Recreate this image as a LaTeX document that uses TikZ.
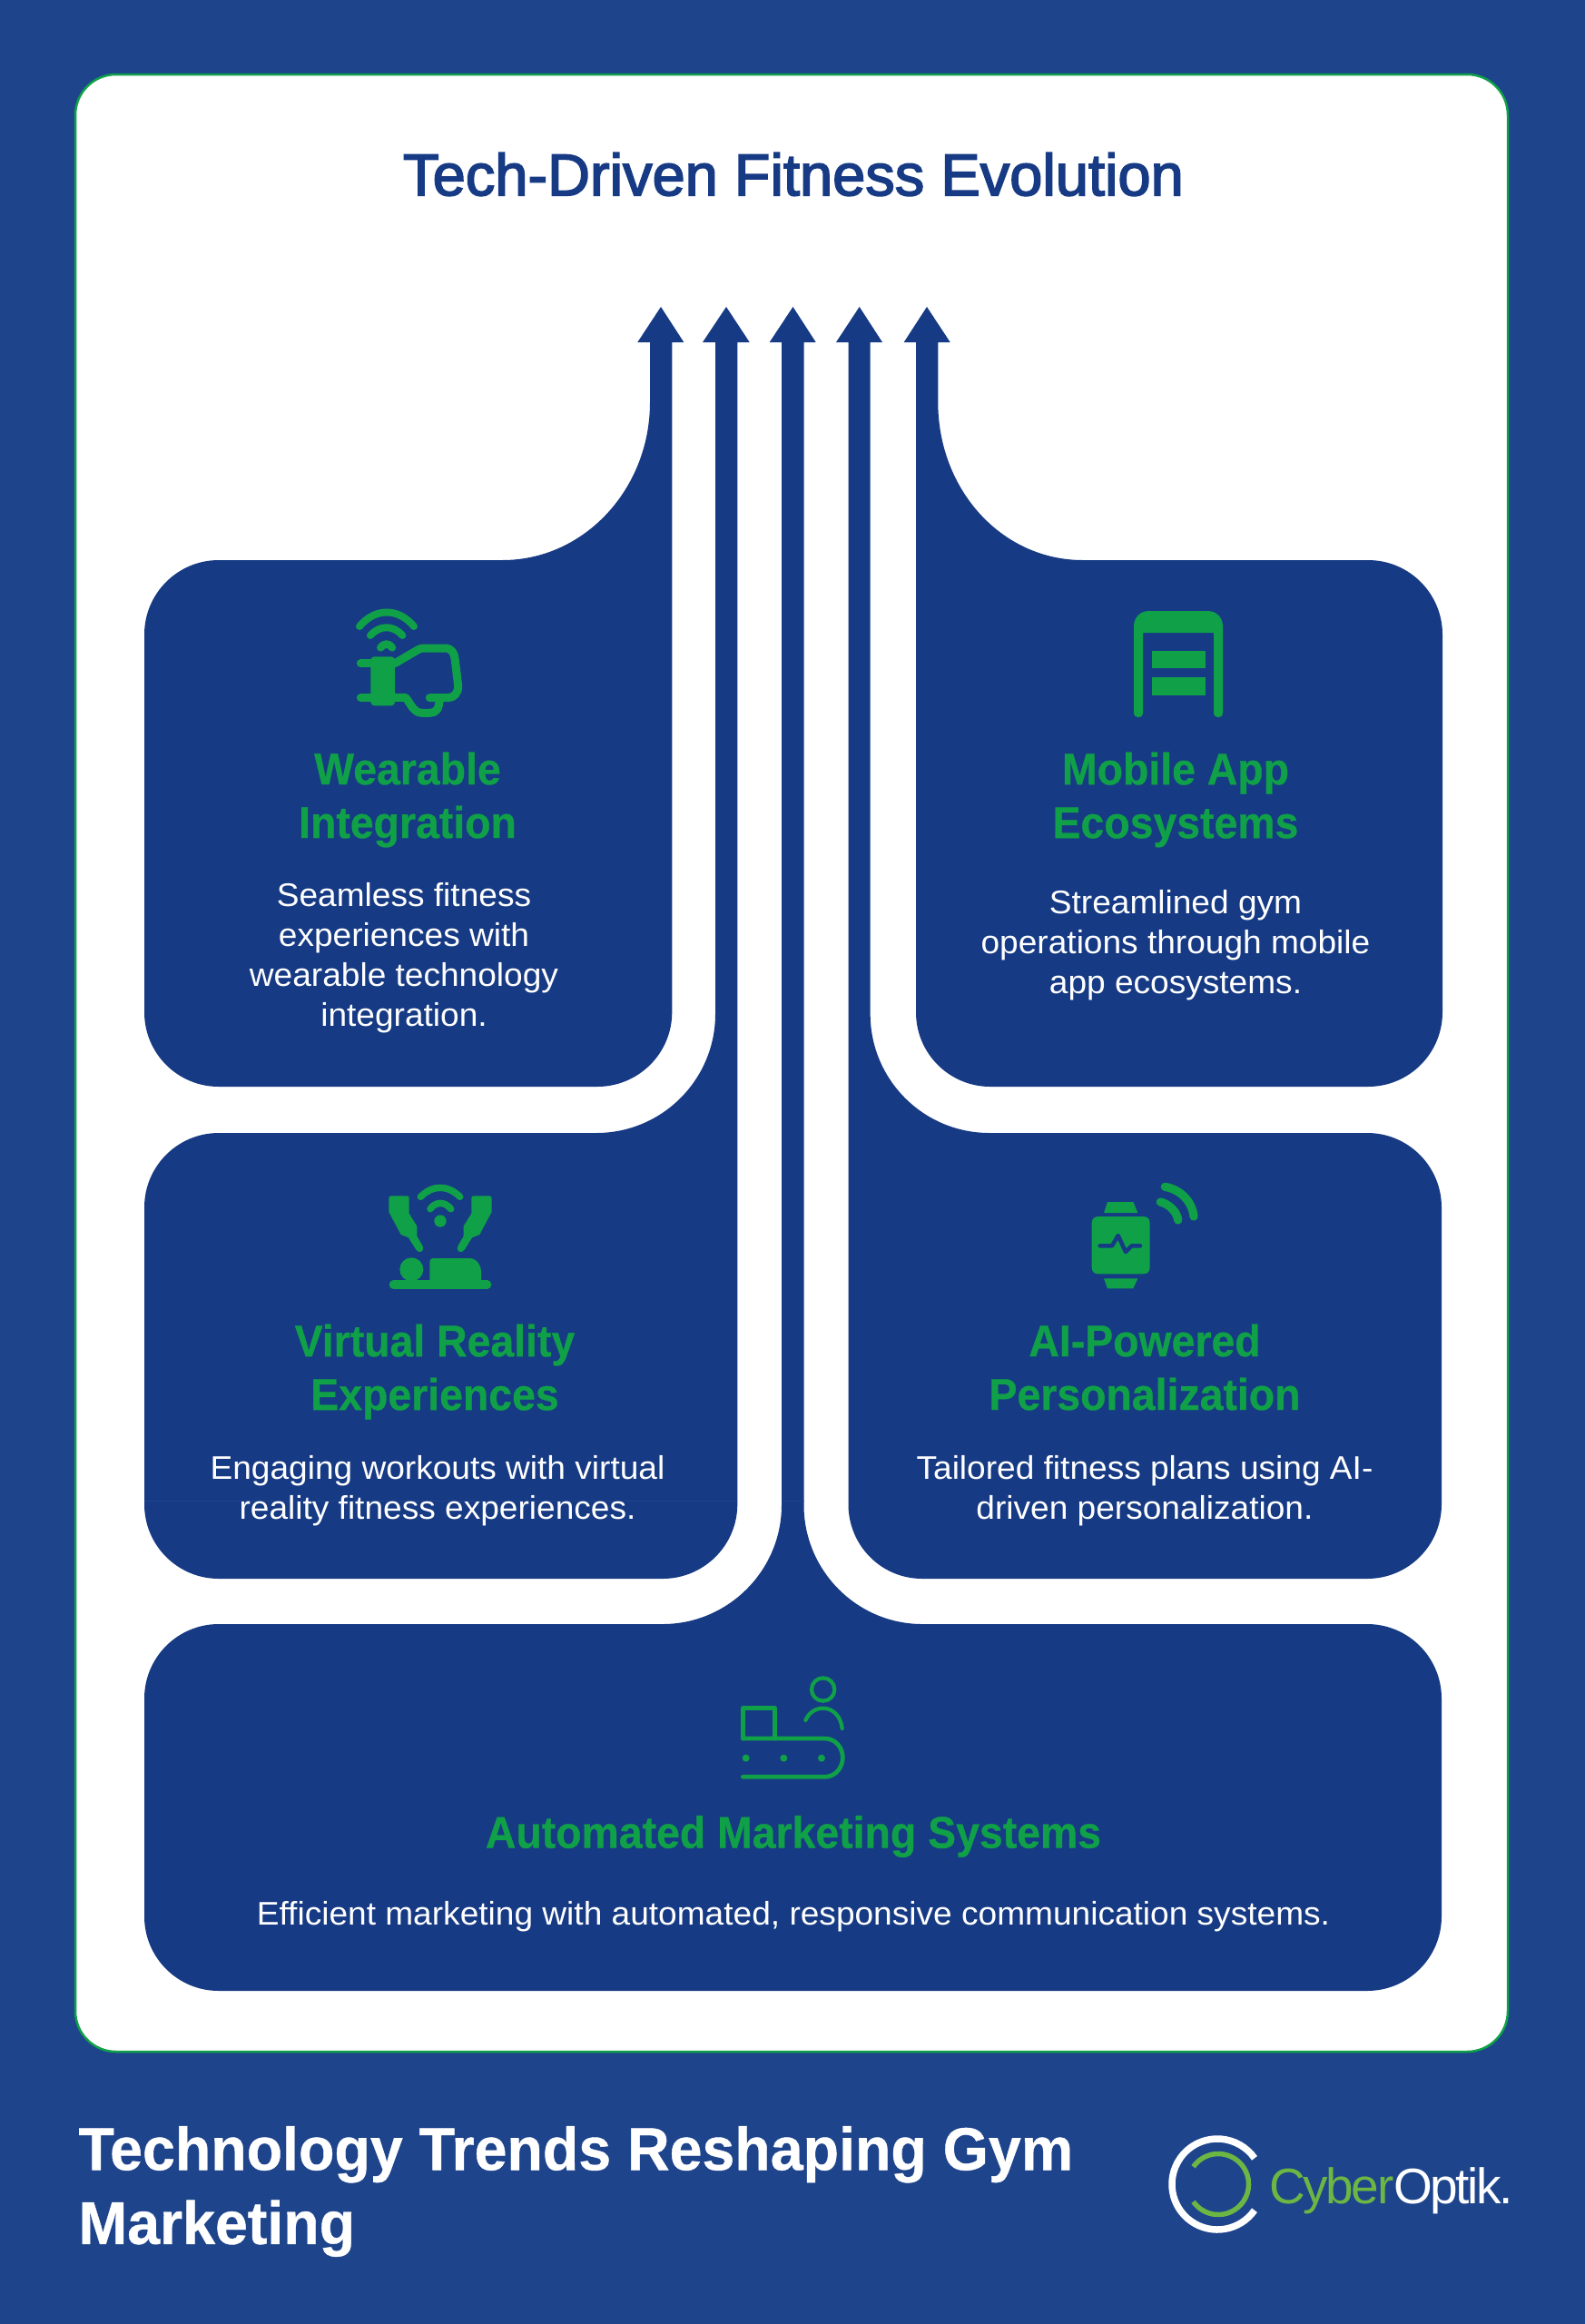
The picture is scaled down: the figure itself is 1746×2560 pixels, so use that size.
\documentclass[tikz,border=0pt]{standalone}
\usepackage{fontspec}
\setmainfont{Liberation Sans}
\newfontfamily\titlefont[FakeBold=2.5]{Liberation Sans}
\newfontfamily\headfont[FakeStretch=0.947,FakeBold=0.6]{Liberation Sans Bold}
\newfontfamily\bodyfont[FakeStretch=1.03]{Liberation Sans}
\newfontfamily\footfont[FakeStretch=0.97,FakeBold=0.6]{Liberation Sans Bold}
\newfontfamily\logofont[LetterSpace=-4.5]{Liberation Sans}
\definecolor{pagebg}{HTML}{1E448C}
\definecolor{boxblue}{HTML}{163A84}
\definecolor{cardgreen}{HTML}{10A048}
\definecolor{logogreen}{HTML}{6CB644}
\tikzset{
  blueshape/.style={fill=boxblue,draw=none},
  icongreen/.style={draw=cardgreen,line cap=round,line join=round},
  iconfill/.style={fill=cardgreen,draw=none},
  headtext/.style={text=cardgreen,align=center,inner sep=0pt,font=\headfont\fontsize{19.6}{23.6}\selectfont},
  bodytext/.style={text=white,align=center,inner sep=0pt,font=\bodyfont\fontsize{14.4}{17.6}\selectfont},
}
\begin{document}
\begin{tikzpicture}[x=0.40pt,y=0.40pt,yscale=-1,xscale=1]
\useasboundingbox (0,0) rectangle (1746,2560);

%Shape: Page
\fill [pagebg] (0,0) rectangle (1746,2560);
%Shape: Card
\draw [draw=cardgreen,fill=white,line width=1pt] (128,82) -- (1616,82) .. controls (1641,82) and (1661,102) .. (1661,127) -- (1661,2215) .. controls (1661,2240) and (1641,2260) .. (1616,2260) -- (128,2260) .. controls (103,2260) and (83,2240) .. (83,2215) -- (83,127) .. controls (83,102) and (103,82) .. (128,82) -- cycle ;

%Shape: Wearable box with arrow
\path [blueshape] (728,338) -- (753.3,377) -- (740.3,377) -- (740.3,1115) .. controls (740.3,1160.3) and (703.3,1197) .. (658,1197) -- (241,1197) .. controls (195.7,1197) and (159,1160.3) .. (159,1115) -- (159,699) .. controls (159,653.7) and (195.7,617) .. (241,617) -- (553.5,617) .. controls (643.3,617) and (716,539) .. (716,443) -- (716,377) -- (702.3,377) -- cycle ;
%Shape: Mobile box with arrow
\path [blueshape] (1021,338) -- (1046.7,377) -- (1033.3,377) -- (1033.3,443) .. controls (1033.3,539) and (1103,617) .. (1193,617) -- (1507,617) .. controls (1552.3,617) and (1589,653.7) .. (1589,699) -- (1589,1115) .. controls (1589,1160.3) and (1552.3,1197) .. (1507,1197) -- (1091,1197) .. controls (1045.7,1197) and (1009,1160.3) .. (1009,1115) -- (1009,377) -- (995.7,377) -- cycle ;
%Shape: Virtual box with arrow
\path [blueshape] (800,338) -- (825.7,377) -- (812.3,377) -- (812.3,1657) .. controls (812.3,1702.3) and (775.3,1739) .. (730,1739) -- (241,1739) .. controls (195.7,1739) and (159,1702.3) .. (159,1657) -- (159,1330) .. controls (159,1284.7) and (195.7,1248) .. (241,1248) -- (657,1248) .. controls (729.5,1248) and (788,1189) .. (788,1117) -- (788,377) -- (774,377) -- cycle ;
%Shape: AI box with arrow
\path [blueshape] (946.7,338) -- (972,377) -- (958.7,377) -- (958.7,1117) .. controls (958.7,1189) and (1017,1248) .. (1090,1248) -- (1506,1248) .. controls (1551.3,1248) and (1588,1284.7) .. (1588,1330) -- (1588,1657) .. controls (1588,1702.3) and (1551.3,1739) .. (1506,1739) -- (1016,1739) .. controls (970.7,1739) and (934.5,1702.3) .. (934.5,1657) -- (934.5,377) -- (921,377) -- cycle ;
%Shape: Automated box with arrow
\path [blueshape] (873.5,338) -- (898.7,377) -- (885.5,377) -- (885.5,1658) .. controls (885.5,1730) and (944,1789) .. (1016,1789) -- (1506,1789) .. controls (1551.3,1789) and (1588,1825.7) .. (1588,1871) -- (1588,2111) .. controls (1588,2156.3) and (1551.3,2193) .. (1506,2193) -- (241,2193) .. controls (195.7,2193) and (159,2156.3) .. (159,2111) -- (159,1871) .. controls (159,1825.7) and (195.7,1789) .. (241,1789) -- (730,1789) .. controls (802,1789) and (861,1730) .. (861,1658) -- (861,377) -- (847.7,377) -- cycle ;
%Shape: faint seam across the boxes
\draw [draw=pagebg,line width=0.3pt] (159,1653) -- (812,1653) (861,1653) -- (885.5,1653) ;

%Icon: wearable
\begin{scope}[shift={(380,640)},scale=1/3]
\draw [icongreen,line width=3.2pt] (48,150) .. controls (100,88) and (176,88) .. (228,150) ;
\draw [icongreen,line width=3.2pt] (84,180) .. controls (115,145) and (160,145) .. (190,180) ;
\draw [icongreen,line width=3.4pt] (118,220) .. controls (128,205) and (146,205) .. (156,220) ;
\draw [icongreen,line width=3.6pt] (52,272) -- (90,272) (52,385) -- (90,385) ;
\path [iconfill] (100,250) -- (150,250) .. controls (160,250) and (165,255) .. (165,265) -- (165,397) .. controls (165,407) and (160,412) .. (150,412) -- (100,412) .. controls (90,412) and (85,407) .. (85,397) -- (85,265) .. controls (85,255) and (90,250) .. (100,250) -- cycle ;
\draw [icongreen,line width=3.6pt] (165,272) -- (240,228) .. controls (250,222) and (255,222) .. (265,222) -- (330,222) .. controls (355,222) and (362,240) .. (364,262) -- (374,345) .. controls (376,370) and (360,386) .. (340,386) -- (280,386) ;
\draw [icongreen,line width=3.6pt] (312,390) .. controls (312,425) and (300,436) .. (280,436) -- (255,436) .. controls (225,436) and (215,400) .. (200,385) -- (165,385) ;
\end{scope}

%Icon: mobile app
\path [iconfill] (1249,785) -- (1249,690) .. controls (1249,680) and (1256,673) .. (1266,673) -- (1330,673) .. controls (1340,673) and (1347,680) .. (1347,690) -- (1347,785) .. controls (1347,792) and (1337,792) .. (1337,785) -- (1337,697) -- (1259,697) -- (1259,785) .. controls (1259,792) and (1249,792) .. (1249,785) -- cycle ;
\path [iconfill] (1268.5,716.5) rectangle (1327.5,736) ;
\path [iconfill] (1268.5,745.5) rectangle (1327.5,765.5) ;

%Icon: virtual reality
\begin{scope}[shift={(400,1280)},scale=1/3]
\draw [icongreen,line width=3pt] (190,115) .. controls (230,75) and (280,75) .. (320,115) ;
\draw [icongreen,line width=3pt] (222,155) .. controls (240,130) and (270,130) .. (290,155) ;
\path [iconfill] (255,195) circle (20) ;
\path [iconfill] (85,120) .. controls (85,114) and (88,112) .. (93,112) -- (145,112) .. controls (150,112) and (152,115) .. (152,120) -- (152,170) -- (178,212) -- (178,245) -- (197,278) .. controls (205,295) and (185,305) .. (175,290) -- (150,250) -- (125,240) -- (85,165) -- cycle ;
\path [iconfill] (425,120) .. controls (425,114) and (422,112) .. (417,112) -- (365,112) .. controls (360,112) and (358,115) .. (358,120) -- (358,170) -- (332,212) -- (332,245) -- (313,278) .. controls (305,295) and (325,305) .. (335,290) -- (360,250) -- (385,240) -- (425,165) -- cycle ;
\path [iconfill] (160,355) circle (39) ;
\path [iconfill] (220,330) .. controls (220,322) and (224,318) .. (232,318) -- (350,318) .. controls (375,318) and (390,340) .. (390,365) -- (390,400) -- (220,400) -- cycle ;
\draw [icongreen,line width=3.7pt] (100,405) -- (410,405) ;
\end{scope}

%Icon: smart watch
\begin{scope}[shift={(1180,1280)},scale=1/3]
\path [iconfill] (120,132) -- (205,132) -- (220,168) -- (108,168) -- cycle ;
\path [iconfill] (108,385) -- (220,385) -- (205,418) -- (120,418) -- cycle ;
\path [iconfill] (90,180) -- (238,180) .. controls (252,180) and (260,188) .. (260,202) -- (260,348) .. controls (260,362) and (252,370) .. (238,370) -- (90,370) .. controls (76,370) and (68,362) .. (68,348) -- (68,202) .. controls (68,188) and (76,180) .. (90,180) -- cycle ;
\draw [draw=boxblue,line width=1.8pt,line cap=round,line join=round] (95,277) -- (135,277) -- (155,243) -- (180,297) -- (200,277) -- (228,277) ;
\draw [icongreen,line width=3.7pt] (310,82) .. controls (360,90) and (400,130) .. (405,180) ;
\draw [icongreen,line width=3.7pt] (295,132) .. controls (325,140) and (350,165) .. (353,192) ;
\end{scope}

%Icon: conveyor
\begin{scope}[shift={(790,1830)},scale=1/3]
\draw [icongreen,line width=1.9pt] (85,255) -- (85,155) -- (190,155) -- (190,255) ;
\draw [icongreen,line width=1.9pt] (85,255) -- (355,255) .. controls (390,255) and (415,284) .. (415,318) .. controls (415,352) and (390,382) .. (355,382) -- (85,382) ;
\path [iconfill] (95,320) circle (12) (220,320) circle (12) (345,320) circle (12) ;
\draw [icongreen,line width=1.7pt] (350,93) circle (38) ;
\draw [icongreen,line width=1.7pt] (292,195) .. controls (305,165) and (330,155) .. (350,155) .. controls (385,155) and (410,185) .. (413,222) ;
\end{scope}

% Text Node
\node (title) [text=boxblue,inner sep=0pt,font=\titlefont\fontsize{26}{30}\selectfont] at (874,192) {Tech-Driven Fitness Evolution};

% Text Node
\node (wearablehead) [headtext] at (449,881) {Wearable\\Integration};
\node (wearablebody) [bodytext] at (445,1055) {Seamless fitness\\experiences with\\wearable technology\\integration.};
% Text Node
\node (mobilehead) [headtext] at (1295,881) {Mobile App\\Ecosystems};
\node (mobilebody) [bodytext] at (1295,1041) {Streamlined gym\\operations through mobile\\app ecosystems.};
% Text Node
\node (virtualhead) [headtext] at (479,1511) {Virtual Reality\\Experiences};
\node (virtualbody) [bodytext] at (482,1642) {Engaging workouts with virtual\\reality fitness experiences.};
% Text Node
\node (aihead) [headtext] at (1261,1506) {AI-Powered\\Personalization};
\node (aibody) [bodytext] at (1261,1642) {Tailored fitness plans using AI-\\driven personalization.};
% Text Node
\node (autohead) [headtext] at (874,2023) {Automated Marketing Systems};
\node (autobody) [bodytext] at (874,2111) {Efficient marketing with automated, responsive communication systems.};

% Text Node
\node (footer) [anchor=west,text=white,align=left,inner sep=0pt,font=\footfont\fontsize{26.6}{32.6}\selectfont] at (86,2414) {Technology Trends Reshaping Gym\\Marketing};

%Shape: Logo rings
\draw [draw=white,line width=3pt] ([shift={(35:50)}]1341,2406) arc [start angle=35,end angle=325,radius=50] ;
\draw [draw=logogreen,line width=2.2pt] ([shift={(-145:33.5)}]1342,2406) arc [start angle=-145,end angle=145,radius=33.5] ;
% Text Node
\node (logotext) [anchor=base west,inner sep=0pt,font=\logofont\fontsize{22}{26}\selectfont] at (1398,2427) {\textcolor{logogreen}{Cyber}\textcolor{white}{Optik.}};

\end{tikzpicture}
\end{document}
